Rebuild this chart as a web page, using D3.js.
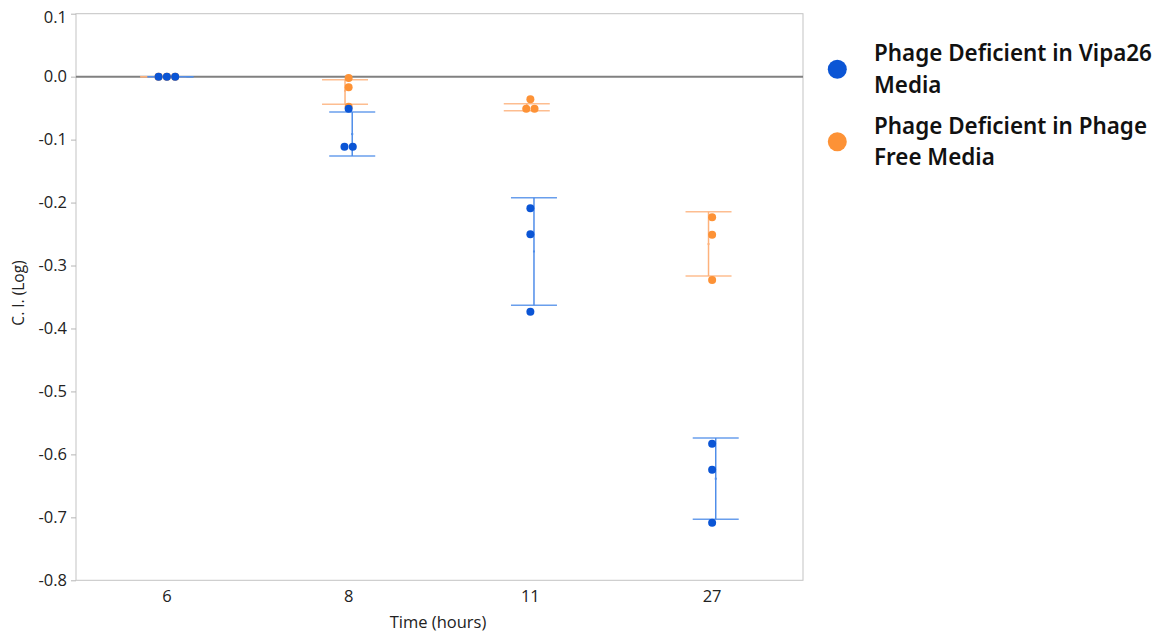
<!DOCTYPE html>
<html>
<head>
<meta charset="utf-8">
<script src="https://cdn.jsdelivr.net/npm/d3@7"></script>
<style>
  html, body { margin: 0; padding: 0; background: #fff; }
  svg { display: block; }
</style>
</head>
<body>
<svg id="chart" width="1158" height="635"></svg>
<script>
// Time points (hours)
const times = ["6", "8", "11", "27"];

// Individual replicate C.I. (log) values per time point
const vipaPoints = [
  [0, 0, 0],
  [-0.051, -0.1113, -0.1113],
  [-0.209, -0.2505, -0.3734],
  [-0.583, -0.6244, -0.7085]
];
const freePoints = [
  [0, 0, 0],
  [-0.0022, -0.017, -0.0478],
  [-0.036, -0.051, -0.051],
  [-0.2235, -0.2511, -0.323]
];

// Error bar limits per time point
const vipaBarHigh = [0, -0.0562, -0.1923, -0.574];
const vipaBarLow  = [0, -0.1261, -0.3632, -0.7031];
const freeBarHigh = [0, -0.0049, -0.043, -0.2146];
const freeBarLow  = [0, -0.044, -0.054, -0.3167];

// Axis ticks and labels
const yTicks = [0.1, 0, -0.1, -0.2, -0.3, -0.4, -0.5, -0.6, -0.7, -0.8];
const seriesNames = [
  ["Phage Deficient in Vipa26", "Media"],
  ["Phage Deficient in Phage", "Free Media"]
];

const svg = d3.select("#chart");
const plot = { left: 76, right: 803, top: 13.7, bottom: 580.3 };

const x = d3.scaleBand().domain(times).range([plot.left, plot.right]).padding(0);
const y = d3.scaleLinear().domain([-0.8, 0.1]).range([plot.bottom, plot.top]);

const fontAxis = "'Open Sans', 'Noto Sans', sans-serif";

// frame
svg.append("rect")
  .attr("x", plot.left).attr("y", plot.top)
  .attr("width", plot.right - plot.left).attr("height", plot.bottom - plot.top)
  .attr("fill", "none").attr("stroke", "#c3c3c3").attr("stroke-width", 1);

// y axis
const yAxis = d3.axisLeft(y)
  .tickValues(yTicks)
  .tickSize(5)
  .tickPadding(4)
  .tickFormat(d3.format(".1f"));
const yg = svg.append("g").attr("transform", `translate(${plot.left},0)`).call(yAxis);
yg.select(".domain").remove();
yg.selectAll(".tick line").attr("stroke", "#b5b5b5");
yg.selectAll(".tick text")
  .attr("font-family", fontAxis).attr("font-size", 16.5).attr("fill", "#222")
  .text(d => d3.format(".1f")(d).replace("−", "-"));
// keep the top label inside the frame
yg.selectAll(".tick").filter(d => d === 0.1).select("text").attr("dy", "0.55em");

// x axis
const xAxis = d3.axisBottom(x).tickSize(0).tickPadding(10);
const xg = svg.append("g").attr("transform", `translate(0,${plot.bottom})`).call(xAxis);
xg.select(".domain").remove();
xg.selectAll(".tick text")
  .attr("font-family", fontAxis).attr("font-size", 16.5).attr("fill", "#222");

// axis titles
svg.append("text")
  .attr("x", 438).attr("y", 628)
  .attr("text-anchor", "middle")
  .attr("font-family", fontAxis).attr("font-size", 16.5).attr("fill", "#222")
  .text("Time (hours)");
svg.append("text")
  .attr("transform", `translate(24,293) rotate(-90)`)
  .attr("text-anchor", "middle")
  .attr("font-family", fontAxis).attr("font-size", 15.5).attr("fill", "#222")
  .text("C. I. (Log)");

// zero reference line
svg.append("line")
  .attr("x1", plot.left).attr("x2", plot.right)
  .attr("y1", y(0)).attr("y2", y(0))
  .attr("stroke", "#808080").attr("stroke-width", 2);

const series = [
  { name: "free", points: freePoints, hi: freeBarHigh, lo: freeBarLow,
    dot: "#fd9236", bar: "#fdb27c", shift: -3.6 },
  { name: "vipa", points: vipaPoints, hi: vipaBarHigh, lo: vipaBarLow,
    dot: "#0b55d5", bar: "#4f8de9", shift: 3.6 }
];

const whisker = 23;

// error bars
series.forEach(s => {
  const g = svg.append("g").attr("class", "bars-" + s.name);
  times.forEach((t, i) => {
    const cx = x(t) + x.bandwidth() / 2 + s.shift;
    const mean = d3.mean(s.points[i]);
    g.append("line")
      .attr("x1", cx).attr("x2", cx)
      .attr("y1", y(s.hi[i])).attr("y2", y(s.lo[i]))
      .attr("stroke", s.bar).attr("stroke-width", 1.5);
    [s.hi[i], s.lo[i]].forEach(v => {
      g.append("line")
        .attr("x1", cx - whisker).attr("x2", cx + whisker)
        .attr("y1", y(v)).attr("y2", y(v))
        .attr("stroke", s.bar).attr("stroke-width", 1.5)
        .attr("stroke-opacity", 0.85);
    });
    // mean mark
    g.append("rect")
      .attr("x", cx - 1).attr("y", y(mean) - 1)
      .attr("width", 2).attr("height", 2)
      .attr("fill", s.bar);
  });
});

// replicate points, equal values spread side by side
const spread = 8.3;
series.forEach(s => {
  const g = svg.append("g").attr("class", "points-" + s.name);
  times.forEach((t, i) => {
    const cx = x(t) + x.bandwidth() / 2;
    const vals = s.points[i];
    const groups = d3.group(vals.map((v, k) => ({ v, k })), d => d.v.toFixed(3));
    groups.forEach(arr => {
      arr.forEach((d, j) => {
        g.append("circle")
          .attr("cx", cx + (j - (arr.length - 1) / 2) * spread)
          .attr("cy", y(d.v))
          .attr("r", 4)
          .attr("fill", s.dot);
      });
    });
  });
});

// legend
const legendColors = ["#0b55d5", "#fd9236"];
const legendY = [69.3, 141.7];
const lg = svg.append("g").attr("class", "legend");
seriesNames.forEach((lines, i) => {
  lg.append("circle")
    .attr("cx", 837.3).attr("cy", legendY[i]).attr("r", 9.5)
    .attr("fill", legendColors[i]);
  lines.forEach((line, j) => {
    lg.append("text")
      .attr("class", "legend-text")
      .attr("x", 874).attr("y", legendY[i] - 8 + j * 31.7)
      .attr("font-family", "'Noto Sans', 'Open Sans', sans-serif")
      .attr("font-weight", 600)
      .attr("font-size", 23)
      .attr("fill", "#111")
      .text(line);
  });
});
// fit legend type to its column width
const firstLine = lg.select(".legend-text").node();
const w = firstLine.getComputedTextLength();
const fs = 23 * 278 / w;
lg.selectAll(".legend-text").attr("font-size", fs);
</script>
</body>
</html>
